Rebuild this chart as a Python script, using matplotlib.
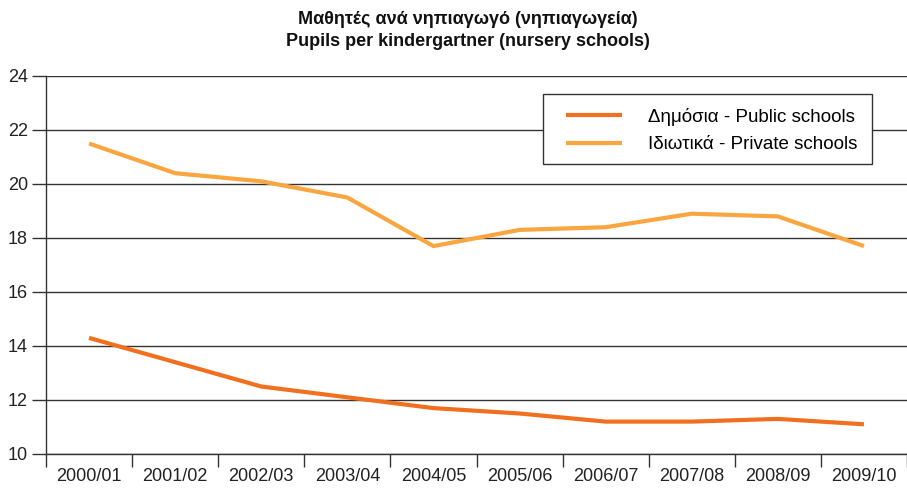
import matplotlib
matplotlib.use("Agg")
import matplotlib.pyplot as plt
from matplotlib.patches import Rectangle
import numpy as np

plt.rcParams['font.family'] = ['Liberation Sans', 'DejaVu Sans']

categories = ["2000/01", "2001/02", "2002/03", "2003/04", "2004/05",
              "2005/06", "2006/07", "2007/08", "2008/09", "2009/10"]
public = [14.3, 13.4, 12.5, 12.1, 11.7, 11.5, 11.2, 11.2, 11.3, 11.1]
private = [21.5, 20.4, 20.1, 19.5, 17.7, 18.3, 18.4, 18.9, 18.8, 17.7]
yticks = [10, 12, 14, 16, 18, 20, 22, 24]
title = "Μαθητές ανά νηπιαγωγό (νηπιαγωγεία)\nPupils per kindergartner (nursery schools)"
labels = ["Δημόσια - Public schools", "Ιδιωτικά - Private schools"]

W, H = 907, 488
fig = plt.figure(figsize=(W/100, H/100), dpi=100)
ax = fig.add_axes([46/W, 1-454/H, 1-46/W, (454-76)/H])

x = np.arange(len(categories))
ax.plot(x, public, color='#F07020', lw=3, label=labels[0], solid_capstyle='butt')
ax.plot(x, private, color='#F9A640', lw=3, label=labels[1], solid_capstyle='butt')

ax.set_xlim(-0.5, len(categories) - 0.5)
ax.set_ylim(10, 24)
ax.set_yticks(yticks)
ax.set_yticklabels([str(v) for v in yticks], fontsize=13, color='#222222')
ax.set_xticks(x)
ax.set_xticklabels(categories, fontsize=13, color='#222222')
ax.tick_params(axis='x', which='major', length=0, pad=10)
ax.set_xticks(np.arange(-0.5, len(categories) + 0.5, 1), minor=True)
ax.tick_params(axis='x', which='minor', length=9, width=1, color='#333333', direction='out')
ax.tick_params(axis='y', length=10, width=1, color='#333333', direction='out', pad=3)

ax.grid(axis='y', color='#333333', lw=1)
ax.set_axisbelow(True)
for s in ['top', 'right']:
    ax.spines[s].set_visible(False)
for s in ['left', 'bottom']:
    ax.spines[s].set_color('#333333')
    ax.spines[s].set_linewidth(1)

fig.text(0.516, 0.978, title, ha='center', va='top', fontsize=13, fontweight='bold',
         color='#111111', linespacing=1.4)

# legend frame drawn manually (figure pixel coordinates)
bx0, by0, bx1, by1 = 543, 94, 872, 164
frame = Rectangle((bx0/W, 1-by1/H), (bx1-bx0)/W, (by1-by0)/H, transform=fig.transFigure,
                  facecolor='white', edgecolor='#333333', lw=1, zorder=5)
fig.patches.append(frame)

leg = fig.legend(loc='upper left', fontsize=13.5, frameon=False,
                 handlelength=3.0, handletextpad=1.35, borderpad=0, labelspacing=0.55,
                 borderaxespad=0, bbox_to_anchor=(566/W, 1-108/H),
                 bbox_transform=fig.transFigure)
leg.set_zorder(6)

fig.savefig("out.png", dpi=100)
